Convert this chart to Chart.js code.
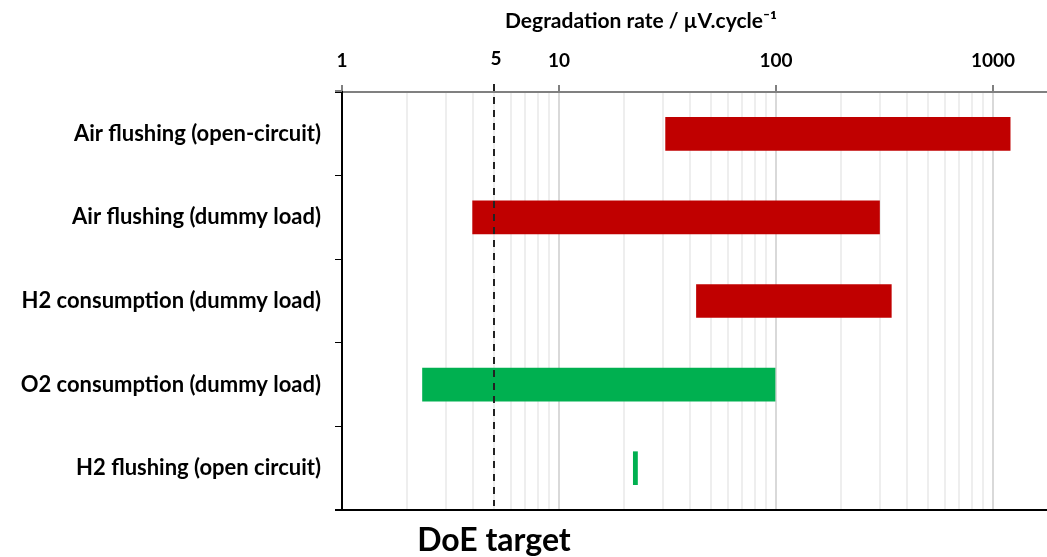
<!DOCTYPE html>
<html>
<head>
<meta charset="utf-8">
<script src="https://cdn.jsdelivr.net/npm/chart.js@4"></script>
<style>
  html, body { margin: 0; padding: 0; background: #fff; }
  #wrap { width: 1047px; height: 557px; }
</style>
</head>
<body>
<div id="wrap"><canvas id="degChart"></canvas></div>
<script>
const categories = [
  'Air flushing (open-circuit)',
  'Air flushing (dummy load)',
  'H2 consumption (dummy load)',
  'O2 consumption (dummy load)',
  'H2 flushing (open circuit)'
];
const rangeLow = [31, 4, 43, 2.35, 22];
const rangeHigh = [1200, 300, 340, 99, 23];
const barColors = ['#c00000', '#c00000', '#c00000', '#00b050', '#00b050'];
const tickLabels = [1, 10, 100, 1000];
const doeTarget = 5;
const axisTitle = 'Degradation rate / µV.cycle⁻¹';

const FONT = 'Lato, "Open Sans", sans-serif';

const isMajor = v => tickLabels.includes(v);

const targetPlugin = {
  id: 'doeTarget',
  afterDraw(chart) {
    const { ctx, chartArea, scales } = chart;
    const x = Math.round(scales.x.getPixelForValue(doeTarget));
    ctx.save();
    // short extensions of top axis and bottom line to the left
    ctx.strokeStyle = '#808080';
    ctx.lineWidth = 2;
    ctx.beginPath();
    ctx.moveTo(chartArea.left - 7, chartArea.top - 1);
    ctx.lineTo(chartArea.left, chartArea.top - 1);
    ctx.stroke();
    ctx.strokeStyle = '#000';
    ctx.beginPath();
    ctx.moveTo(chartArea.left - 7, chartArea.bottom);
    ctx.lineTo(chartArea.right, chartArea.bottom);
    ctx.stroke();
    // dashed target line
    ctx.setLineDash([7, 6]);
    ctx.lineWidth = 2;
    ctx.strokeStyle = '#222';
    ctx.beginPath();
    ctx.moveTo(x, chartArea.top - 8);
    ctx.lineTo(x, chartArea.bottom - 4);
    ctx.stroke();
    ctx.setLineDash([]);
    ctx.fillStyle = '#000';
    ctx.textAlign = 'center';
    ctx.textBaseline = 'middle';
    // axis title
    ctx.font = 'bold 21px ' + FONT;
    ctx.fillText(axisTitle, 641, 21);
    // "5" label next to the axis ticks
    ctx.font = 'bold 19px ' + FONT;
    ctx.fillText(String(doeTarget), x + 2, 59);
    // DoE target caption
    ctx.font = 'bold 32px ' + FONT;
    ctx.fillText('DoE target', x, 541);
    ctx.restore();
  }
};

new Chart(document.getElementById('degChart'), {
  type: 'bar',
  data: {
    labels: categories,
    datasets: [{
      data: categories.map((c, i) => [rangeLow[i], rangeHigh[i]]),
      backgroundColor: barColors,
      borderWidth: 0,
      barThickness: 33
    }]
  },
  options: {
    indexAxis: 'y',
    responsive: true,
    maintainAspectRatio: false,
    animation: false,
    layout: { padding: { left: 0, right: 0, top: 0, bottom: 47 } },
    plugins: {
      legend: { display: false },
      tooltip: { enabled: false }
    },
    scales: {
      x: {
        type: 'logarithmic',
        position: 'top',
        min: 1,
        max: 1774,
        afterBuildTicks(scale) {
          scale.ticks = scale.ticks.filter(t => {
            const m = t.value / Math.pow(10, Math.floor(Math.log10(t.value) + 1e-9));
            return Math.abs(m - Math.round(m)) < 1e-6;
          });
        },
        afterFit(scale) { scale.height = 92; },
        border: { display: true, color: '#808080', width: 2 },
        grid: {
          color: c => (c.tick && isMajor(c.tick.value)) ? '#d9d9d9' : '#eeeeee',
          lineWidth: 2,
          tickLength: 7,
          tickColor: c => (c.tick && isMajor(c.tick.value)) ? '#808080' : 'rgba(0,0,0,0)'
        },
        ticks: {
          autoSkip: false,
          maxRotation: 0,
          padding: 13,
          color: '#000',
          font: { family: FONT, size: 19, weight: 'bold' },
          callback: v => isMajor(v) ? String(v) : ''
        },
        title: { display: false }
      },
      y: {
        afterFit(scale) { scale.width = 342; },
        border: { display: true, color: '#000', width: 2 },
        grid: {
          offset: true,
          drawOnChartArea: false,
          tickLength: 7,
          tickColor: '#000'
        },
        ticks: {
          padding: 14,
          color: '#000',
          font: { family: FONT, size: 22, weight: 'bold' }
        }
      }
    }
  },
  plugins: [targetPlugin]
});
</script>
</body>
</html>
